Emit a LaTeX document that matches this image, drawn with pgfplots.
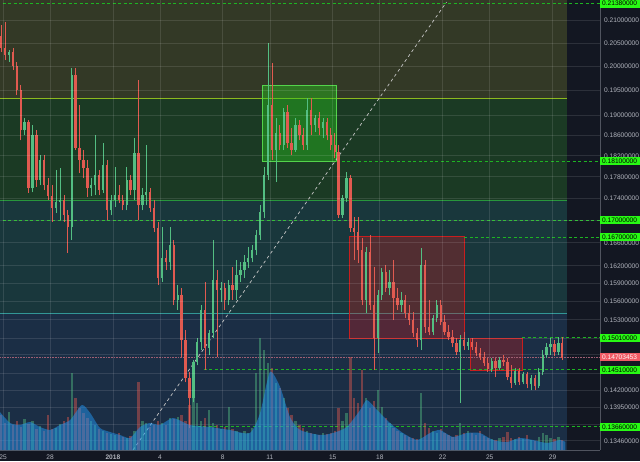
\documentclass[border=0pt]{standalone}
\usepackage{pgfplots}
\pgfplotsset{compat=1.18}
\usepackage{pgfplotstable}
\usepackage{fontspec}
\setmainfont{Liberation Sans}

\definecolor{bg}{RGB}{19,23,34}
\definecolor{zoneA}{RGB}{51,57,38}
\definecolor{zoneB}{RGB}{27,58,36}
\definecolor{zoneC}{RGB}{25,55,60}
\definecolor{zoneD}{RGB}{27,46,69}
\definecolor{lineA}{RGB}{140,185,30}
\definecolor{lineB}{RGB}{40,150,60}
\definecolor{lineC}{RGB}{50,150,150}
\definecolor{dashg}{RGB}{30,180,35}
\definecolor{tagg}{RGB}{40,250,20}
\definecolor{tagr}{RGB}{240,90,100}
\definecolor{upc}{RGB}{83,190,130}
\definecolor{downc}{RGB}{225,90,80}
\definecolor{boxg}{RGB}{40,200,30}
\definecolor{boxr}{RGB}{200,30,30}
\definecolor{labelgray}{RGB}{178,181,190}
\definecolor{axisgray}{RGB}{80,84,95}
\definecolor{priceline}{RGB}{160,95,115}
\definecolor{maBlue}{RGB}{33,150,243}

% k = candle index (6h candles from 25 Dec), o h l c = prices, v = volume (relative)
\pgfplotstableread{
k o h l c v
0 0.2066 0.2090 0.2031 0.2040 35
1 0.2040 0.2097 0.2014 0.2025 27
2 0.2025 0.2035 0.2010 0.2031 38
3 0.2031 0.2040 0.1993 0.2001 25
4 0.2001 0.2010 0.1941 0.1951 29
5 0.1951 0.1961 0.1850 0.1870 23
6 0.1870 0.1894 0.1860 0.1886 31
7 0.1886 0.1890 0.1750 0.1759 26
8 0.1759 0.1880 0.1751 0.1860 29
9 0.1860 0.1870 0.1761 0.1774 21
10 0.1774 0.1821 0.1764 0.1812 24
11 0.1812 0.1821 0.1755 0.1764 19
12 0.1764 0.1777 0.1737 0.1744 35
13 0.1744 0.1764 0.1697 0.1722 21
14 0.1722 0.1793 0.1713 0.1733 22
15 0.1733 0.1796 0.1700 0.1737 26
16 0.1737 0.1746 0.1697 0.1709 29
17 0.1709 0.1718 0.1642 0.1688 33
18 0.1688 0.1997 0.1665 0.1982 77
19 0.1982 0.1997 0.1831 0.1835 52
20 0.1835 0.1920 0.1787 0.1812 42
21 0.1812 0.1831 0.1777 0.1796 37
22 0.1796 0.1812 0.1742 0.1759 32
23 0.1759 0.1777 0.1744 0.1764 29
24 0.1764 0.1860 0.1746 0.1783 25
25 0.1783 0.1793 0.1746 0.1755 21
26 0.1755 0.1845 0.1750 0.1802 19
27 0.1802 0.1812 0.1700 0.1718 17
28 0.1718 0.1746 0.1709 0.1737 16
29 0.1737 0.1798 0.1724 0.1746 15
30 0.1746 0.1764 0.1731 0.1737 17
31 0.1737 0.1746 0.1718 0.1727 13
32 0.1727 0.1798 0.1718 0.1774 12
33 0.1774 0.1783 0.1746 0.1755 14
34 0.1755 0.1854 0.1737 0.1825 19
35 0.1825 0.1972 0.1700 0.1727 68
36 0.1727 0.1759 0.1718 0.1746 29
37 0.1746 0.1841 0.1727 0.1751 27
38 0.1751 0.1759 0.1715 0.1722 23
39 0.1722 0.1737 0.1679 0.1686 25
40 0.1686 0.1697 0.1587 0.1599 29
41 0.1599 0.1688 0.1592 0.1633 27
42 0.1633 0.1647 0.1613 0.1626 25
43 0.1626 0.1688 0.1613 0.1656 32
44 0.1656 0.1665 0.1554 0.1562 31
45 0.1562 0.1587 0.1546 0.1570 33
46 0.1570 0.1582 0.1471 0.1497 35
47 0.1497 0.1513 0.1432 0.1438 29
48 0.1438 0.1448 0.1364 0.1408 45
49 0.1408 0.1466 0.1402 0.1463 55
50 0.1463 0.1501 0.1458 0.1494 47
51 0.1494 0.1554 0.1482 0.1546 29
52 0.1546 0.1592 0.1451 0.1485 32
53 0.1485 0.1513 0.1474 0.1509 40
54 0.1509 0.1665 0.1501 0.1596 27
55 0.1596 0.1613 0.1471 0.1579 25
56 0.1579 0.1592 0.1559 0.1582 21
57 0.1582 0.1591 0.1546 0.1562 23
58 0.1562 0.1596 0.1554 0.1587 43
59 0.1587 0.1618 0.1562 0.1579 21
60 0.1579 0.1630 0.1562 0.1604 19
61 0.1604 0.1626 0.1592 0.1613 17
62 0.1613 0.1638 0.1599 0.1626 19
63 0.1626 0.1652 0.1616 0.1633 17
64 0.1633 0.1656 0.1626 0.1647 22
65 0.1647 0.1682 0.1638 0.1673 77
66 0.1673 0.1727 0.1665 0.1715 112
67 0.1715 0.1798 0.1704 0.1783 100
68 0.1783 0.2050 0.1774 0.1920 87
69 0.1920 0.2007 0.1812 0.1831 82
70 0.1831 0.1894 0.1770 0.1864 67
71 0.1864 0.1880 0.1831 0.1841 62
72 0.1841 0.1914 0.1831 0.1906 52
73 0.1906 0.1920 0.1835 0.1845 42
74 0.1845 0.1874 0.1821 0.1831 35
75 0.1831 0.1894 0.1827 0.1880 29
76 0.1880 0.1890 0.1850 0.1860 25
77 0.1860 0.1874 0.1831 0.1841 22
78 0.1841 0.1934 0.1831 0.1910 19
79 0.1910 0.1934 0.1860 0.1880 17
80 0.1880 0.1900 0.1866 0.1894 16
81 0.1894 0.1906 0.1860 0.1874 15
82 0.1874 0.1894 0.1854 0.1886 17
83 0.1886 0.1894 0.1850 0.1860 16
84 0.1860 0.1874 0.1831 0.1841 17
85 0.1841 0.1864 0.1815 0.1827 19
86 0.1827 0.1841 0.1704 0.1709 42
87 0.1709 0.1746 0.1704 0.1740 29
88 0.1740 0.1789 0.1733 0.1777 37
89 0.1777 0.1783 0.1679 0.1686 93
90 0.1686 0.1706 0.1630 0.1679 52
91 0.1679 0.1706 0.1625 0.1647 47
92 0.1647 0.1668 0.1554 0.1562 80
93 0.1562 0.1652 0.1541 0.1644 52
94 0.1644 0.1673 0.1546 0.1554 42
95 0.1554 0.1618 0.1451 0.1501 49
96 0.1501 0.1579 0.1477 0.1570 60
97 0.1570 0.1616 0.1562 0.1609 43
98 0.1609 0.1621 0.1576 0.1582 32
99 0.1582 0.1613 0.1570 0.1592 27
100 0.1592 0.1630 0.1530 0.1565 22
101 0.1565 0.1582 0.1546 0.1554 19
102 0.1554 0.1576 0.1542 0.1562 17
103 0.1562 0.1570 0.1533 0.1541 15
104 0.1541 0.1554 0.1521 0.1530 13
105 0.1530 0.1542 0.1502 0.1509 12
106 0.1509 0.1517 0.1486 0.1497 11
107 0.1497 0.1651 0.1482 0.1621 57
108 0.1621 0.1630 0.1509 0.1518 27
109 0.1518 0.1562 0.1505 0.1510 22
110 0.1510 0.1538 0.1505 0.1533 19
111 0.1533 0.1562 0.1526 0.1554 17
112 0.1554 0.1562 0.1521 0.1526 21
113 0.1526 0.1538 0.1505 0.1510 17
114 0.1510 0.1521 0.1497 0.1502 15
115 0.1502 0.1513 0.1486 0.1493 13
116 0.1493 0.1501 0.1474 0.1479 15
117 0.1479 0.1505 0.1401 0.1497 27
118 0.1497 0.1510 0.1482 0.1488 17
119 0.1488 0.1501 0.1482 0.1494 19
120 0.1494 0.1501 0.1482 0.1486 17
121 0.1486 0.1494 0.1472 0.1477 15
122 0.1477 0.1485 0.1466 0.1471 19
123 0.1471 0.1479 0.1457 0.1461 14
124 0.1461 0.1469 0.1448 0.1452 12
125 0.1452 0.1469 0.1448 0.1465 11
126 0.1465 0.1469 0.1440 0.1454 10
127 0.1454 0.1471 0.1451 0.1466 12
128 0.1466 0.1474 0.1457 0.1463 13
129 0.1463 0.1469 0.1435 0.1440 18
130 0.1440 0.1458 0.1423 0.1431 12
131 0.1431 0.1454 0.1428 0.1449 11
132 0.1449 0.1454 0.1428 0.1432 13
133 0.1432 0.1448 0.1429 0.1445 11
134 0.1445 0.1448 0.1423 0.1429 15
135 0.1429 0.1443 0.1420 0.1438 10
136 0.1438 0.1443 0.1420 0.1426 9
137 0.1426 0.1454 0.1423 0.1448 13
138 0.1448 0.1482 0.1443 0.1474 17
139 0.1474 0.1493 0.1469 0.1486 15
140 0.1486 0.1501 0.1474 0.1491 12
141 0.1491 0.1497 0.1472 0.1479 11
142 0.1479 0.1502 0.1474 0.1493 13
143 0.1493 0.1502 0.1466 0.1470 10
}\candles

\pgfplotsset{
  upsel/.style={restrict expr to domain={\thisrow{c}-\thisrow{o}}{0:1}},
  downsel/.style={restrict expr to domain={\thisrow{c}-\thisrow{o}}{-1:-0.00001}},
  candle/.style n args={2}{draw=none, mark=none, forget plot,
    error bars/y dir=plus, error bars/y explicit, error bars/error mark=none,
    error bars/error bar style={draw=#1, line width=#2, solid, opacity=1}},
}
\tikzset{
  dashline/.style={draw=dashg, line width=0.9pt, dash pattern=on 3pt off 2.5pt},
  tag/.style={anchor=west, fill=tagg, text=black, inner xsep=2pt, inner ysep=0pt,
    text width=36pt, align=left, minimum height=8pt,
    font=\fontsize{6.6}{7}\selectfont},
}

\begin{document}
\begin{tikzpicture}
\fill[bg] (0,0) rectangle (640pt,461pt);
\begin{axis}[
  at={(0pt,11pt)}, anchor=south west,
  scale only axis, width=600pt, height=450pt,
  xmin=-0.27, xmax=152.6,
  ymode=log, ymin=0.1333, ymax=0.21459,
  axis on top,
  axis x line*=bottom, axis y line*=right,
  axis line style={draw=axisgray, line width=0.8pt},
  tick style={draw=none},
  xtick={0.5,12.5,28.5,40.5,56.5,68.5,84.5,96.5,112.5,124.5,140.5},
  xticklabels={25,28,\textbf{2018},4,8,11,15,18,22,25,29},
  ytick={0.21,0.205,0.2,0.195,0.19,0.186,0.182,0.178,0.174,0.17,0.166,0.162,0.159,0.156,0.153,0.15,0.1475,0.1445,0.142,0.1395,0.137,0.1346},
  yticklabels={0.21000000,0.20500000,0.20000000,0.19500000,0.19000000,0.18600000,0.18200000,0.17800000,0.17400000,{},0.16600000,0.16200000,0.15900000,0.15600000,0.15300000,{},{},{},0.14200000,0.13950000,{},0.13460000},
  grid=major,
  major grid style={draw=white, opacity=0.11, line width=0.7pt},
  tick label style={font=\fontsize{6.6}{7}\selectfont, text=labelgray},
  yticklabel style={anchor=west, inner sep=0pt, xshift=4pt},
  xticklabel style={anchor=north, inner sep=0pt, yshift=-4.5pt},
]
% background zones
\fill[zoneA] (axis cs:-1,0.19345) rectangle (axis cs:144.2,0.23);
\fill[zoneB] (axis cs:-1,0.17366) rectangle (axis cs:144.2,0.19345);
\fill[zoneC] (axis cs:-1,0.15409) rectangle (axis cs:144.2,0.17366);
\fill[zoneD] (axis cs:-1,0.12) rectangle (axis cs:144.2,0.15409);
\draw[lineA, line width=0.8pt] (axis cs:-1,0.19345) -- (axis cs:144.2,0.19345);
\draw[lineB, line width=0.8pt] (axis cs:-1,0.17366) -- (axis cs:144.2,0.17366);
\draw[lineC, line width=0.8pt] (axis cs:-1,0.15409) -- (axis cs:144.2,0.15409);
% boxes
\draw[draw=boxg!80!white, line width=0.7pt, fill=boxg, fill opacity=0.42] (axis cs:66.5,0.18098) rectangle (axis cs:85.34,0.19613);
\draw[draw=boxr, line width=0.7pt, fill=boxr, fill opacity=0.33] (axis cs:88.65,0.1501) rectangle (axis cs:117.95,0.1672);
\draw[draw=boxr, line width=0.7pt, fill=boxr, fill opacity=0.33] (axis cs:119.48,0.1451) rectangle (axis cs:132.73,0.1501);
% horizontal levels
\draw[dashline] (axis cs:-1,0.2138) -- (axis cs:153,0.2138);
\draw[dashline] (axis cs:85.34,0.181) -- (axis cs:153,0.181);
\draw[dashline] (axis cs:-1,0.170) -- (axis cs:153,0.170);
\draw[dashline] (axis cs:117.95,0.167) -- (axis cs:153,0.167);
\draw[dashline] (axis cs:132.73,0.1501) -- (axis cs:153,0.1501);
\draw[dashline] (axis cs:51.7,0.1451) -- (axis cs:153,0.1451);
\draw[dashline] (axis cs:48.65,0.1366) -- (axis cs:153,0.1366);
\draw[priceline, line width=0.9pt, dash pattern=on 1pt off 0.6pt] (axis cs:-1,0.14703) -- (axis cs:153,0.14703);
% trend line
\draw[gray!45, line width=0.7pt, dash pattern=on 3pt off 3pt] (axis cs:33.6,0.1333) -- (axis cs:113.5,0.21414);
% candles: wicks
\addplot[upsel, candle={upc}{0.6pt}]
  table[x=k, y=l, y error expr=\thisrow{h}-\thisrow{l}] {\candles};
\addplot[downsel, candle={downc}{0.6pt}]
  table[x=k, y=l, y error expr=\thisrow{h}-\thisrow{l}] {\candles};
% candles: bodies
\addplot[upsel, candle={upc}{2.3pt}]
  table[x=k, y=o, y error expr=\thisrow{c}-\thisrow{o}] {\candles};
\addplot[downsel, candle={downc}{2.3pt}]
  table[x=k, y=c, y error expr=\thisrow{o}-\thisrow{c}] {\candles};
% anchors for price tags
\coordinate (tA) at (axis cs:152.6,0.2138);
\coordinate (tB) at (axis cs:152.6,0.181);
\coordinate (tC) at (axis cs:152.6,0.170);
\coordinate (tD) at (axis cs:152.6,0.167);
\coordinate (tE) at (axis cs:152.6,0.1501);
\coordinate (tF) at (axis cs:152.6,0.14703);
\coordinate (tG) at (axis cs:152.6,0.1451);
\coordinate (tH) at (axis cs:152.6,0.1366);
\end{axis}

% volume pane
\begin{axis}[
  at={(0pt,11pt)}, anchor=south west,
  scale only axis, width=600pt, height=450pt,
  xmin=-0.27, xmax=152.6, ymin=0, ymax=450,
  hide axis,
]
\addplot[ycomb, forget plot, upsel, draw=upc, draw opacity=0.45, line width=2.3pt, mark=none]
  table[x=k, y=v] {\candles};
\addplot[ycomb, forget plot, downsel, draw=downc, draw opacity=0.45, line width=2.3pt, mark=none]
  table[x=k, y=v] {\candles};
\addplot[fill=maBlue, fill opacity=0.5, draw=none, smooth, tension=0.4] coordinates {
(-0.3,38) (2.3,27) (4.8,25) (7.4,28) (9.9,23) (12.5,20) (15,25) (17.6,30) (20.6,45)
(22.7,37) (25.2,22) (27.8,18) (30.3,15) (32.9,12) (35.4,23) (37.9,27) (40.5,25)
(43.8,32) (48.1,25) (53.2,23) (58.3,20) (63.4,17) (66,37) (68.5,78) (71.1,63)
(73.6,33) (76.2,20) (81.3,15) (84.6,17) (88.1,23) (91.5,40) (93.2,50) (95.8,40)
(99.1,27) (102.4,17) (106,10) (109.3,17) (111.8,20) (115.1,13) (118.7,17) (122,17)
(125.3,10) (128.9,8) (132.2,12) (135.5,10) (139.1,7) (142.4,10) (143.8,8)
} \closedcycle;
\end{axis}

% price tags on the right scale
\node[tag] at (tA) {0.21380000};
\node[tag] at (tB) {0.18100000};
\node[tag] at (tC) {0.17000000};
\node[tag] at (tD) {0.16700000};
\node[tag] at (tE) {0.15010000};
\node[tag, fill=tagr, text=white!88!pink] at (tF) {0.14703453};
\node[tag] at (tG) {0.14510000};
\node[tag] at (tH) {0.13660000};

\pgfresetboundingbox
\path[use as bounding box] (0,0) rectangle (640pt,461pt);
\end{tikzpicture}
\end{document}
